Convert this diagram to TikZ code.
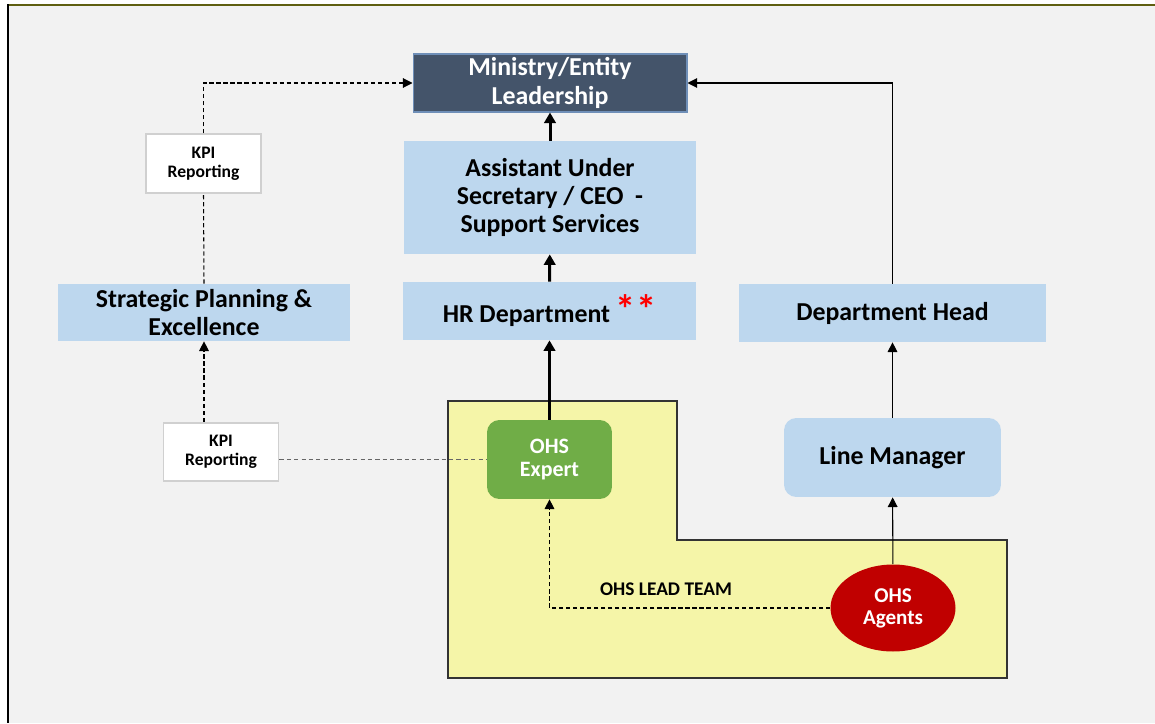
\documentclass[tikz,border=0pt]{standalone}
\usepackage{fontspec}
\setmainfont{Carlito}
\usepackage{xcolor}
\usepackage{tikz}
\usetikzlibrary{calc,arrows.meta,shapes.geometric}
\definecolor{panelGray}{HTML}{F2F2F2}
\definecolor{leaderSlate}{HTML}{44546A}
\definecolor{leaderEdge}{HTML}{6F8FB8}
\definecolor{roleBlue}{HTML}{BDD7EE}
\definecolor{teamYellow}{HTML}{F5F5A8}
\definecolor{expertGreen}{HTML}{70AD47}
\definecolor{agentRed}{HTML}{C00000}
\definecolor{kpiEdge}{HTML}{D0D0D0}
\definecolor{frameOlive}{HTML}{5F5F10}
\newcommand{\boxFont}{\fontsize{14.7}{16}\selectfont\bfseries}
\newcommand{\kpiFont}{\fontsize{10}{11}\selectfont\bfseries}
\newcommand{\roundFont}{\fontsize{12.5}{13}\selectfont\bfseries}
\newcommand{\redStars}{\textcolor{red}{\raisebox{-0.5pt}{\fontsize{23}{23}\selectfont **}}}
\newcommand{\teamLabel}{OHS LEAD TEAM}

\begin{document}
\begin{tikzpicture}[x=0.02cm, y=-0.02cm,
		roleBox/.style={fill=roleBlue, align=center, font=\boxFont, inner sep=0pt},
		kpiBox/.style={fill=white, draw=kpiEdge, line width=1pt, align=center, font=\kpiFont, minimum width=2.3cm, minimum height=1.17cm},
		thickArrow/.style={line width=1.7pt, -{Triangle[length=6pt,width=6.5pt]}},
		thinArrow/.style={line width=0.6pt, -{Triangle[length=5.5pt,width=5.5pt]}},
		dashLine/.style={line width=0.6pt, dash pattern=on 2.4pt off 1.6pt}]
	
	\useasboundingbox (0,0) rectangle (1155,723);
	% frame
	\fill[panelGray] (8,5) rectangle (1155,723);
	\draw[frameOlive, line width=1.3pt] (8,5) -- (1155,5);
	\draw[black, line width=1.3pt] (8,4.5) -- (8,723);
	
	% lead team area
	\draw[fill=teamYellow, draw=black!80, line width=1.2pt] (448,401) -- (677,401) -- (677,540) -- (1007,540) -- (1007,678) -- (448,678) -- cycle;
	\node[font=\fontsize{11}{12}\selectfont\bfseries] (teamText) at (666,589) {\teamLabel};
	
	% boxes
	\node[roleBox, fill=leaderSlate, draw=leaderEdge, line width=0.6pt, text=white, minimum width=5.48cm, minimum height=1.16cm] (ministry) at (550,83) {Ministry/Entity\\Leadership};
	\node[roleBox, minimum width=5.86cm, minimum height=2.26cm] (assistant) at (550,197.5) {Assistant Under\\Secretary / CEO\ \ -\\Support Services};
	\node[roleBox, minimum width=5.86cm, minimum height=1.16cm] (hrDept) at (549.5,311) {HR Department \redStars};
	\node[roleBox, minimum width=5.84cm, minimum height=1.14cm] (strategic) at (204,312.5) {Strategic Planning \&\\Excellence};
	\node[roleBox, minimum width=6.14cm, minimum height=1.16cm] (deptHead) at (892.5,313) {Department Head};
	\node[roleBox, rounded corners=7pt, minimum width=4.34cm, minimum height=1.58cm] (lineManager) at (892.5,457.5) {Line Manager};
	\node[roleBox, rounded corners=7pt, fill=expertGreen, text=white, font=\roundFont, minimum width=2.5cm, minimum height=1.58cm] (ohsExpert) at (549.5,459.5) {OHS\\Expert};
	\node[ellipse, fill=agentRed, text=white, align=center, font=\fontsize{12}{12.5}\selectfont\bfseries, inner sep=0pt, minimum width=2.5cm, minimum height=1.74cm] (ohsAgents) at (893,608) {OHS\\Agents};
	\node[kpiBox] (kpiTop) at (203.5,163.5) {KPI\\Reporting};
	\node[kpiBox] (kpiLow) at (221,452) {KPI\\Reporting};
	
	% solid lines
	\foreach \from/\to in {ohsExpert/hrDept, hrDept/assistant, assistant/ministry}
	{
		\draw[thickArrow] (\from) -- (\to);
	}
	\draw[thinArrow] (ohsAgents) -- (lineManager);
	\draw[thinArrow] (lineManager) -- (deptHead);
	\draw[thinArrow] (deptHead.north) |- (ministry.east);
	
	% dashed lines
	\draw[dashLine] (strategic.north) -- (kpiTop.south);
	\draw[dashLine, -{Triangle[length=5.5pt,width=5.5pt]}] (kpiTop.north) |- (ministry.west);
	\draw[dashLine, -{Triangle[length=5.5pt,width=5.5pt]}] (strategic.south |- kpiLow.north) -- (strategic.south);
	\draw[dashLine, black!60, dash pattern=on 2.4pt off 1.8pt] (kpiLow.east |- ohsExpert.west) -- (ohsExpert.west);
	\draw[dashLine, -{Triangle[length=5.5pt,width=5.5pt]}] (ohsAgents.west) -| (ohsExpert.south);
\end{tikzpicture}
\end{document}
